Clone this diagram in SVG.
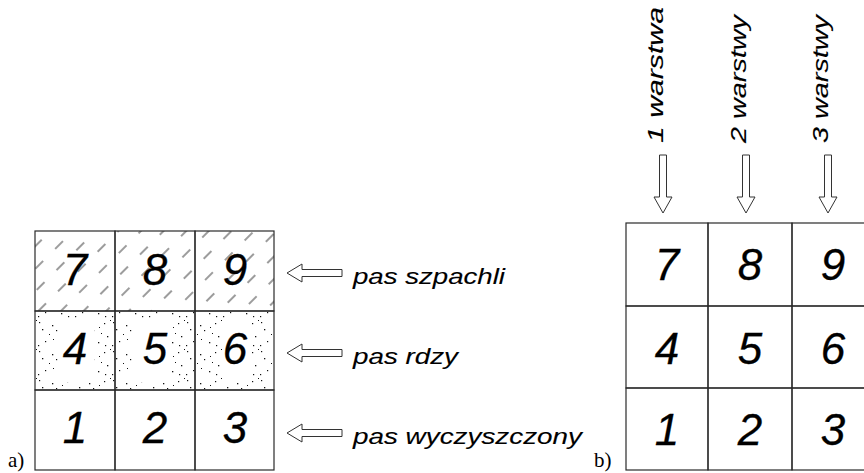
<svg xmlns="http://www.w3.org/2000/svg" width="864" height="473" viewBox="0 0 864 473">
  <style>
    .cell { fill: none; stroke: #2a2a2a; stroke-width: 1.2; }
    .num { font-family: "Liberation Sans", Arial, sans-serif; font-style: italic; font-size: 44px; fill: #000; stroke: #000; stroke-width: 0.3; text-anchor: middle; }
    .lbl { font-family: "Liberation Sans", Arial, sans-serif; font-style: italic; font-size: 22px; fill: #000; stroke: #000; stroke-width: 0.1; }
    .tag { font-family: "Liberation Serif", "Times New Roman", serif; font-size: 21px; fill: #000; }
    .arrow { fill: #fff; stroke: #333; stroke-width: 1; stroke-linejoin: miter; }
  </style>
  <defs>
    <!-- dashed diagonal hatching for the filler strip -->
    <pattern id="hatch" patternUnits="userSpaceOnUse" width="32" height="28" patternTransform="rotate(45)">
      <line x1="7" y1="0" x2="7" y2="11" stroke="#222" stroke-width="0.9"/>
      <line x1="23" y1="14" x2="23" y2="25" stroke="#222" stroke-width="0.9"/>
    </pattern>
    <!-- random stipple for the rust strip -->
    <pattern id="stipple" patternUnits="userSpaceOnUse" width="37" height="29">
      <g fill="#111">
        <rect x="2" y="3" width="1.2" height="1.2"/>
        <rect x="15" y="6" width="1.3" height="1.3"/>
        <rect x="30" y="4" width="1.2" height="1.2"/>
        <rect x="5" y="10" width="1.3" height="1.3"/>
        <rect x="19" y="11" width="1.2" height="1.2"/>
        <rect x="27" y="14" width="1" height="1"/>
        <rect x="33" y="17" width="1.3" height="1.3"/>
        <rect x="8" y="22" width="1.2" height="1.2"/>
        <rect x="16" y="20" width="1" height="1"/>
        <rect x="24" y="23" width="1.3" height="1.3"/>
        <rect x="1" y="26" width="1.2" height="1.2"/>
        <rect x="36" y="1" width="1" height="1"/>
        <rect x="12" y="15" width="1" height="1"/>
        <rect x="25" y="8" width="1" height="1"/>
        <rect x="31" y="26" width="1.2" height="1.2"/>
      </g>
    </pattern>
  </defs>

  <rect width="864" height="473" fill="#fff"/>

  <!-- a) strip layout -->
  <g id="grid-a">
    <rect x="35" y="231" width="239" height="80" fill="url(#hatch)"/>
    <rect x="35" y="311" width="239" height="79" fill="url(#stipple)"/>
    <!-- clear zones around the numbers in the rust strip -->
    <rect x="58" y="319" width="36" height="63" fill="#fff"/>
    <rect x="133" y="319" width="39" height="63" fill="#fff"/>
    <rect x="222" y="319" width="30" height="63" fill="#fff"/>

    <g id="a7"><rect class="cell" x="35" y="231" width="80" height="80"/><text class="num" x="75" y="285">7</text></g>
    <g id="a8"><rect class="cell" x="115" y="231" width="80" height="80"/><text class="num" x="155" y="285">8</text></g>
    <g id="a9"><rect class="cell" x="195" y="231" width="79" height="80"/><text class="num" x="235" y="285">9</text></g>
    <g id="a4"><rect class="cell" x="35" y="311" width="80" height="79"/><text class="num" x="75" y="364">4</text></g>
    <g id="a5"><rect class="cell" x="115" y="311" width="80" height="79"/><text class="num" x="155" y="364">5</text></g>
    <g id="a6"><rect class="cell" x="195" y="311" width="79" height="79"/><text class="num" x="235" y="364">6</text></g>
    <g id="a1"><rect class="cell" x="35" y="390" width="80" height="80"/><text class="num" x="75" y="443">1</text></g>
    <g id="a2"><rect class="cell" x="115" y="390" width="80" height="80"/><text class="num" x="155" y="443">2</text></g>
    <g id="a3"><rect class="cell" x="195" y="390" width="79" height="80"/><text class="num" x="235" y="443">3</text></g>
  </g>

  <g id="labels-a">
    <text class="lbl" x="353" y="284" textLength="152" lengthAdjust="spacingAndGlyphs">pas szpachli</text>
    <text class="lbl" x="353" y="364" textLength="105" lengthAdjust="spacingAndGlyphs">pas rdzy</text>
    <text class="lbl" x="353" y="444" textLength="229" lengthAdjust="spacingAndGlyphs">pas wyczyszczony</text>
  </g>

  <!-- b) layer order -->
  <g id="grid-b">
    <g id="b7"><rect class="cell" x="626" y="223" width="82" height="83"/><text class="num" x="667" y="280">7</text></g>
    <g id="b8"><rect class="cell" x="708" y="223" width="84" height="83"/><text class="num" x="750" y="280">8</text></g>
    <g id="b9"><rect class="cell" x="792" y="223" width="84" height="83"/><text class="num" x="833" y="280">9</text></g>
    <g id="b4"><rect class="cell" x="626" y="306" width="82" height="82"/><text class="num" x="667" y="364">4</text></g>
    <g id="b5"><rect class="cell" x="708" y="306" width="84" height="82"/><text class="num" x="750" y="364">5</text></g>
    <g id="b6"><rect class="cell" x="792" y="306" width="84" height="82"/><text class="num" x="833" y="364">6</text></g>
    <g id="b1"><rect class="cell" x="626" y="388" width="82" height="82"/><text class="num" x="667" y="445">1</text></g>
    <g id="b2"><rect class="cell" x="708" y="388" width="84" height="82"/><text class="num" x="750" y="445">2</text></g>
    <g id="b3"><rect class="cell" x="792" y="388" width="84" height="82"/><text class="num" x="833" y="445">3</text></g>
  </g>

  <g id="labels-b">
    <text class="lbl" transform="translate(663,143) rotate(-90)" textLength="136" lengthAdjust="spacingAndGlyphs">1 warstwa</text>
    <text class="lbl" transform="translate(746,143) rotate(-90)" textLength="128" lengthAdjust="spacingAndGlyphs">2 warstwy</text>
    <text class="lbl" transform="translate(828,143) rotate(-90)" textLength="128" lengthAdjust="spacingAndGlyphs">3 warstwy</text>
  </g>

  <!-- hollow arrows -->
  <g id="connectors">
    <path class="arrow" d="M287,273 L302,264 L302,269.5 L342,269.5 L342,276.5 L302,276.5 L302,282 Z"/>
    <path class="arrow" d="M287,353 L302,344 L302,349.5 L342,349.5 L342,356.5 L302,356.5 L302,362 Z"/>
    <path class="arrow" d="M287,433 L302,424 L302,429.5 L342,429.5 L342,436.5 L302,436.5 L302,442 Z"/>
    <path class="arrow" d="M659.5,155 H666.5 V197 H672 L663,213 L654,197 H659.5 Z"/>
    <path class="arrow" d="M742.5,155 H749.5 V197 H755 L746,213 L737,197 H742.5 Z"/>
    <path class="arrow" d="M824.5,155 H831.5 V197 H837 L828,213 L819,197 H824.5 Z"/>
  </g>

  <g id="tags">
    <text class="tag" x="8" y="467">a)</text>
    <text class="tag" x="594" y="467">b)</text>
  </g>
</svg>
